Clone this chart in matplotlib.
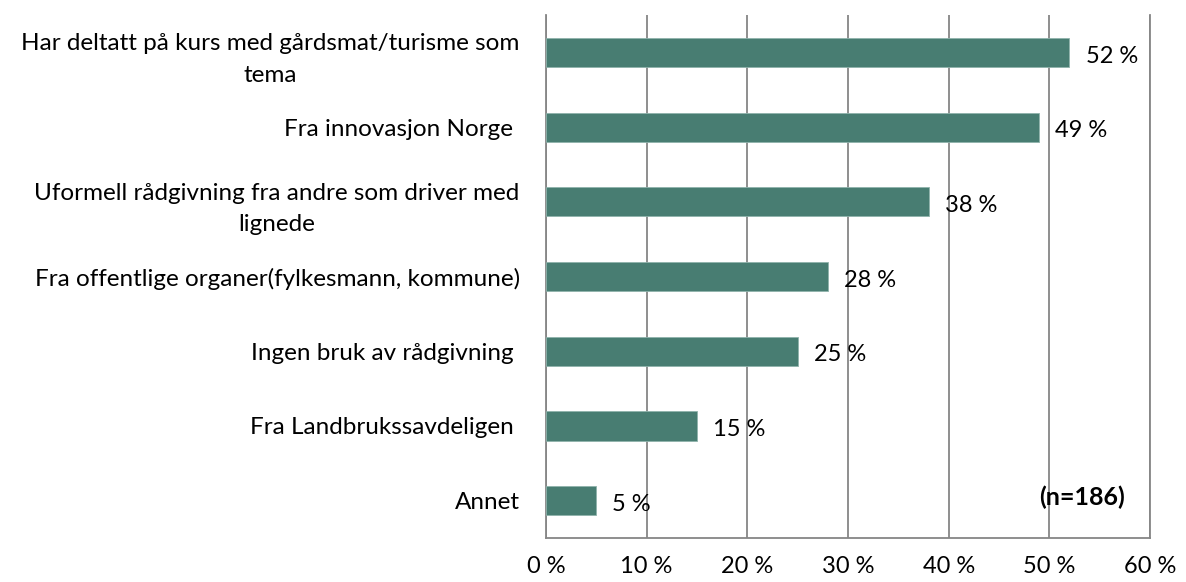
import matplotlib.pyplot as plt
import numpy as np

categories = [
    'Har deltatt på kurs med gårdsmat/turisme som\ntema',
    'Fra innovasjon Norge ',
    'Uformell rådgivning fra andre som driver med\nlignede',
    'Fra offentlige organer(fylkesmann, kommune)',
    'Ingen bruk av rådgivning ',
    'Fra Landbrukssavdeligen ',
    'Annet',
]
values = [52, 49, 38, 28, 25, 15, 5]
xticks = [0, 10, 20, 30, 40, 50, 60]
xtick_labels = ['0 %', '10 %', '20 %', '30 %', '40 %', '50 %', '60 %']

plt.rcParams['font.family'] = ['Lato', 'DejaVu Sans']

fig, ax = plt.subplots(figsize=(11.86, 5.82), dpi=100)
fig.subplots_adjust(left=0.4604, right=0.9696, top=0.974, bottom=0.0756)

ypos = np.arange(len(categories))
ax.barh(ypos, values, height=0.39, color='#487d72', edgecolor='#8fb3ab', linewidth=0.6, zorder=3)
ax.set_ylim(len(categories) - 0.5, -0.5)
ax.set_xlim(0, 60)

ax.set_yticks(ypos)
ax.set_yticklabels(categories, fontsize=17.5, multialignment='center', linespacing=1.6)
ax.set_xticks(xticks)
ax.set_xticklabels(xtick_labels, fontsize=17)
ax.tick_params(axis='both', length=0)
ax.tick_params(axis='y', pad=19)
ax.tick_params(axis='x', pad=13)

ax.grid(axis='x', color='#868686', linewidth=1.3, zorder=0)
ax.spines['top'].set_visible(False)
for s in ['left', 'bottom', 'right']:
    ax.spines[s].set_color('#868686')
    ax.spines[s].set_linewidth(1.3)

for y, v in zip(ypos, values):
    ax.text(v + 1.6, y + 0.05, f'{v} %', va='center', ha='left', fontsize=17, zorder=4)

ax.text(53.2, 5.95, '(n=186)', ha='center', va='center', fontsize=18, fontweight='bold', zorder=4)

fig.savefig('out.png')
